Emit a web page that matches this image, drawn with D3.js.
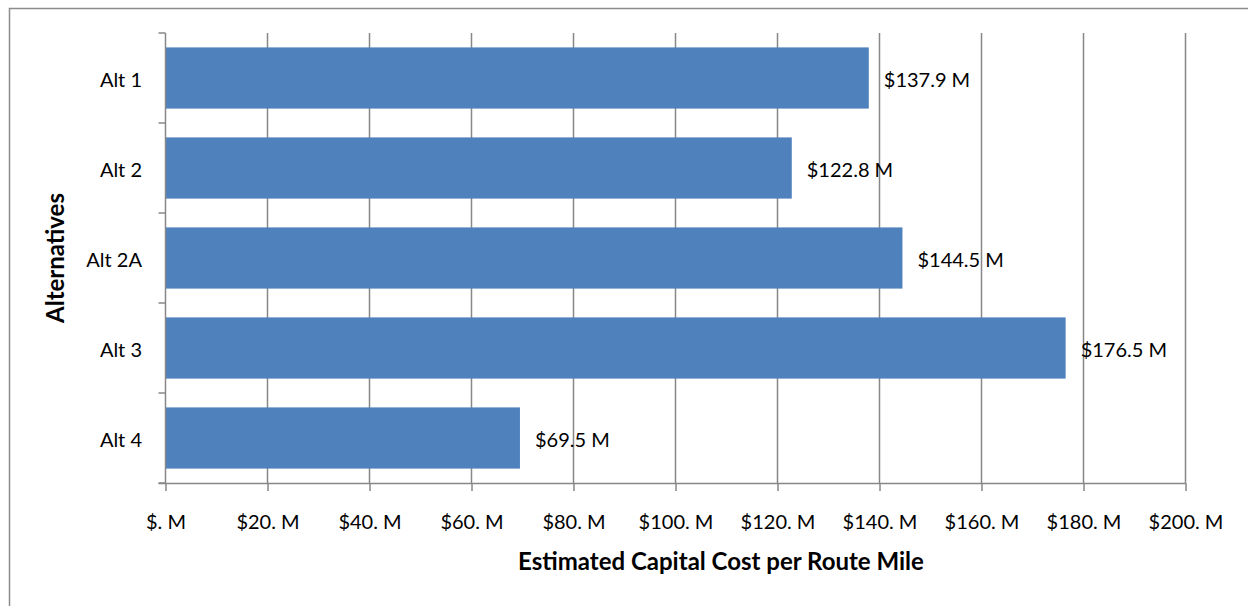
<!DOCTYPE html>
<html>
<head>
<meta charset="utf-8">
<script src="https://cdn.jsdelivr.net/npm/d3@7"></script>
<style>
  html, body { margin: 0; padding: 0; background: #fff; }
  svg { display: block; font-family: Lato, "Open Sans", "Liberation Sans", sans-serif; }
</style>
</head>
<body>
<svg id="chart" width="1248" height="606"></svg>
<script>
// Estimated capital cost per route mile, in $ millions
const categories = ["Alt 1", "Alt 2", "Alt 2A", "Alt 3", "Alt 4"];
const costs = [137.9, 122.8, 144.5, 176.5, 69.5];
const tickValues = [0, 20, 40, 60, 80, 100, 120, 140, 160, 180, 200];
const tickLabels = ["$. M", "$20. M", "$40. M", "$60. M", "$80. M", "$100. M", "$120. M", "$140. M", "$160. M", "$180. M", "$200. M"];

const svg = d3.select("#chart");
const plot = { left: 165.5, right: 1185.5, top: 33, bottom: 483 };
const gridColor = "#878787";
const labelSize = 20;

// outer chart frame
svg.append("rect")
  .attr("x", 9.5).attr("y", 8.5)
  .attr("width", 1260).attr("height", 620)
  .attr("fill", "#fff").attr("stroke", "#8c8c8c").attr("stroke-width", 1.5);

const x = d3.scaleLinear().domain([0, 200]).range([plot.left, plot.right]);
const y = d3.scaleBand().domain(categories).range([plot.top, plot.bottom]).paddingInner(0.32).paddingOuter(0.16);

// vertical gridlines
svg.append("g")
  .selectAll("line")
  .data(tickValues.slice(1))
  .join("line")
  .attr("x1", d => x(d)).attr("x2", d => x(d))
  .attr("y1", plot.top).attr("y2", plot.bottom)
  .attr("stroke", gridColor).attr("stroke-width", 1.5);

// bars
svg.append("g")
  .selectAll("rect")
  .data(categories)
  .join("rect")
  .attr("x", x(0))
  .attr("y", d => y(d))
  .attr("width", (d, i) => x(costs[i]) - x(0))
  .attr("height", y.bandwidth())
  .attr("fill", "#4f81bd");

// value labels
svg.append("g")
  .selectAll("text")
  .data(categories)
  .join("text")
  .attr("x", (d, i) => x(costs[i]) + 15)
  .attr("y", d => y(d) + y.bandwidth() / 2)
  .attr("dy", "0.47em")
  .attr("font-size", labelSize)
  .attr("fill", "#000")
  .text((d, i) => "$" + costs[i].toFixed(1) + " M");

// x axis
const xAxis = d3.axisBottom(x)
  .tickValues(tickValues)
  .tickFormat((d, i) => tickLabels[i])
  .tickSize(8)
  .tickSizeOuter(0)
  .tickPadding(24);
const gx = svg.append("g").attr("transform", `translate(0,${plot.bottom})`).call(xAxis);
gx.select(".domain").attr("stroke", gridColor).attr("stroke-width", 1.5)
  .attr("d", `M${plot.left - 7},0.5H${plot.right}`);
gx.selectAll(".tick line").attr("stroke", gridColor).attr("stroke-width", 1.5);
gx.selectAll(".tick text").attr("font-size", labelSize).attr("fill", "#000")
  .attr("font-family", "Lato, 'Open Sans', sans-serif");

// y axis line with category boundary ticks
const gy = svg.append("g");
gy.append("line")
  .attr("x1", plot.left).attr("x2", plot.left)
  .attr("y1", plot.top).attr("y2", plot.bottom)
  .attr("stroke", gridColor).attr("stroke-width", 1.5);
const boundaries = d3.range(categories.length + 1).map(i => plot.top + i * (plot.bottom - plot.top) / categories.length);
gy.selectAll(".bt")
  .data(boundaries)
  .join("line")
  .attr("class", "bt")
  .attr("x1", plot.left - 7).attr("x2", plot.left)
  .attr("y1", d => d).attr("y2", d => d)
  .attr("stroke", gridColor).attr("stroke-width", 1.5);

// category labels
gy.selectAll("text")
  .data(categories)
  .join("text")
  .attr("x", 142)
  .attr("y", d => y(d) + y.bandwidth() / 2)
  .attr("dy", "0.47em")
  .attr("text-anchor", "end")
  .attr("font-size", labelSize)
  .attr("fill", "#000")
  .text(d => d);

// axis titles
svg.append("text")
  .attr("x", 721)
  .attr("y", 570)
  .attr("text-anchor", "middle")
  .attr("font-size", 24)
  .attr("font-weight", "bold")
  .attr("fill", "#000")
  .text("Estimated Capital Cost per Route Mile");

svg.append("text")
  .attr("transform", `translate(64,${(plot.top + plot.bottom) / 2}) rotate(-90)`)
  .attr("text-anchor", "middle")
  .attr("font-size", 24)
  .attr("font-weight", "bold")
  .attr("fill", "#000")
  .text("Alternatives");
</script>
</body>
</html>
